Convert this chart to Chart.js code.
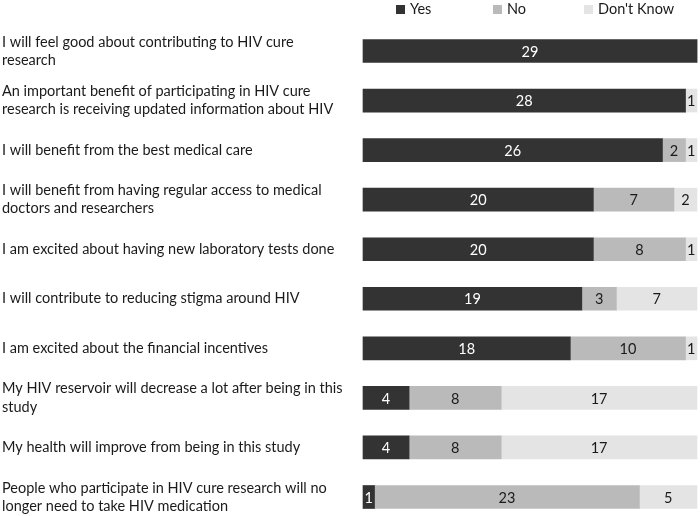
<!DOCTYPE html>
<html>
<head>
<meta charset="utf-8">
<script src="https://cdn.jsdelivr.net/npm/chart.js@4"></script>
<style>
  html, body { margin: 0; padding: 0; background: #fff; }
  #wrap { width: 700px; height: 516px; position: relative; }
</style>
</head>
<body>
<div id="wrap"><canvas id="c"></canvas></div>
<script>
// statements, already split into the lines shown in the figure
const statements = [
    [ 'I will feel good about contributing to HIV cure', 'research' ],
    [ 'An important benefit of participating in HIV cure', 'research is receiving updated information about HIV' ],
    'I will benefit from the best medical care',
    [ 'I will benefit from having regular access to medical', 'doctors and researchers' ],
    'I am excited about having new laboratory tests done',
    'I will contribute to reducing stigma around HIV',
    'I am excited about the financial incentives',
    [ 'My HIV reservoir will decrease a lot after being in this', 'study' ],
    'My health will improve from being in this study',
    [ 'People who participate in HIV cure research will no', 'longer need to take HIV medication' ]
];

const yes      = [ 29, 28, 26, 20, 20, 19, 18, 4, 4, 1 ];
const no       = [ 0, 0, 2, 7, 8, 3, 10, 8, 8, 23 ];
const dontKnow = [ 0, 1, 1, 2, 1, 7, 1, 17, 17, 5 ];

const FONT = 'Lato, sans-serif';
const SIZE = 14.5;

Chart.defaults.font.family = FONT;
Chart.defaults.font.size = SIZE;
Chart.defaults.color = '#1a1a1a';
Chart.defaults.animation = false;

// numbers written inside each segment
const segmentValues = {
    id: 'segmentValues',
    afterDatasetsDraw( chart ) {
        const ctx = chart.ctx;
        ctx.save();
        ctx.font = SIZE + 'px ' + FONT;
        ctx.textAlign = 'center';
        ctx.textBaseline = 'middle';
        chart.data.datasets.forEach( ( ds, i ) => {
            chart.getDatasetMeta( i ).data.forEach( ( bar, j ) => {
                const v = ds.data[ j ];
                if ( !v ) return;
                const p = bar.getProps( [ 'x', 'y', 'base' ], true );
                ctx.fillStyle = ds.valueColor;
                ctx.fillText( String( v ), ( p.x + p.base ) / 2, p.y + 1 );
            } );
        } );
        ctx.restore();
    }
};

// legend across the top right
const topLegend = {
    id: 'topLegend',
    afterDraw( chart ) {
        const ctx = chart.ctx;
        const starts = [ 396, 493, 584 ];
        ctx.save();
        ctx.font = SIZE + 'px ' + FONT;
        ctx.textBaseline = 'middle';
        ctx.textAlign = 'left';
        chart.data.datasets.forEach( ( ds, i ) => {
            const x = starts[ i ];
            ctx.fillStyle = ds.backgroundColor;
            ctx.fillRect( x, 5, 9, 9 );
            ctx.fillStyle = '#1a1a1a';
            ctx.fillText( ds.label, x + 14, 9 );
        } );
        ctx.restore();
    }
};

new Chart( document.getElementById( 'c' ), {
    type: 'bar',
    data: {
        labels: statements,
        datasets: [
            { label: 'Yes', data: yes, backgroundColor: '#333333', valueColor: '#ffffff' },
            { label: 'No', data: no, backgroundColor: '#bababa', valueColor: '#1a1a1a' },
            { label: "Don't Know", data: dontKnow, backgroundColor: '#e4e4e4', valueColor: '#1a1a1a' }
        ]
    },
    options: {
        indexAxis: 'y',
        responsive: true,
        maintainAspectRatio: false,
        events: [],
        layout: { padding: { left: 2, right: 3, top: 51, bottom: 19 } },
        datasets: { bar: { barThickness: 23, borderWidth: 0, clip: false } },
        plugins: { legend: { display: false }, tooltip: { enabled: false } },
        scales: {
            x: {
                stacked: true,
                min: 0,
                max: 29,
                display: false
            },
            y: {
                stacked: true,
                offset: false,
                grid: { display: false, drawTicks: false },
                border: { display: false },
                ticks: {
                    crossAlign: 'far',
                    padding: 0,
                    color: '#1a1a1a',
                    font: { size: SIZE, lineHeight: 1.25 }
                },
                afterFit( scale ) { scale.width = 361; }
            }
        }
    },
    plugins: [ segmentValues, topLegend ]
} );
</script>
</body>
</html>
